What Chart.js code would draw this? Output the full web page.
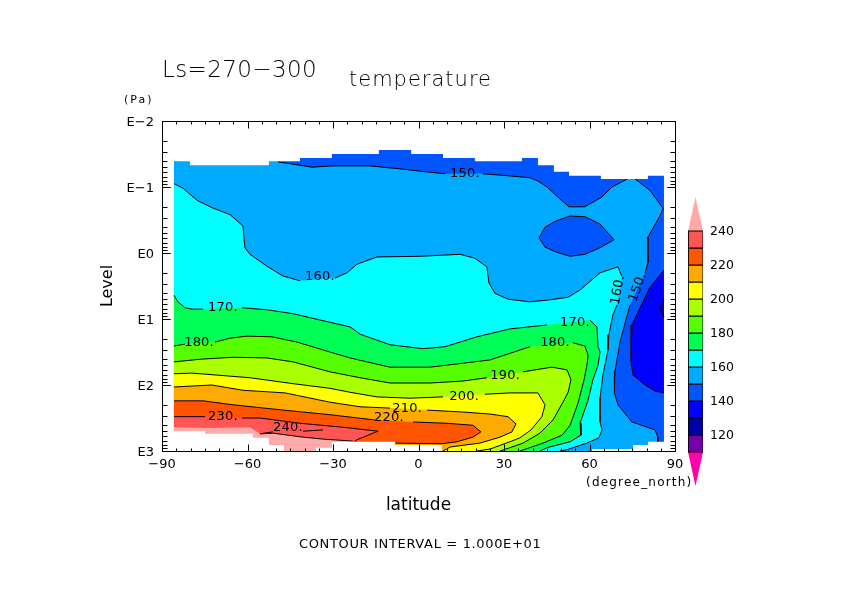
<!DOCTYPE html>
<html><head><meta charset="utf-8">
<style>html,body{margin:0;padding:0;background:#fff;width:842px;height:595px;overflow:hidden}canvas{position:absolute;display:block}</style>
<script src="https://cdn.jsdelivr.net/npm/chart.js@4"></script>
</head><body>
<canvas id="main" width="842" height="595" style="left:0;top:0"></canvas>
<canvas id="bar" width="60" height="300" style="left:680px;top:190px"></canvas>
<script>
// ---------- axes ----------
const xTicks = [-90,-60,-30,0,30,60,90];
const yTicks = [1e-2,1e-1,1,1e1,1e2,1e3];
const yTickLabels = ['E\u22122','E\u22121','E0','E1','E2','E3'];
const barTicks = [120,140,160,180,200,220,240];

// ---------- contours: latitude (deg) and log10 pressure (Pa); null = gap at a label ----------
const latFrame = [-85.8,86.1,86.1,-85.8];
const levFrame = [-2,-2,3,3];

const lat150a = [-49.3,-41.6,-37.4,-30.4,-17.0,-12.5,-5.4,0.5,9.3,null,22.6,31.4,39.1,41.9,45.1,48.6,52.8,58.4,64.4,67.9,73.2];
const lev150a = [-1.38,-1.33,-1.30,-1.32,-1.32,-1.30,-1.27,-1.24,-1.20,null,-1.20,-1.17,-1.14,-1.09,-1.00,-0.86,-0.70,-0.70,-0.85,-1.00,-1.12];
const lat150b = [76.0,81.2,85.4,85.8,84.7,80.5,80.5,79.5,null,74.2,70.7,68.9,68.6,68.9,70.0,74.9,83.0,84.0,84.0];
const lev150b = [-1.12,-0.95,-0.70,-0.67,-0.56,-0.24,0.15,0.30,null,0.79,1.35,1.80,1.92,2.12,2.30,2.56,2.68,2.79,2.86];
const lat150c = [42.3,44.4,47.9,53.2,58.4,63.7,68.6,63.7,58.4,53.2,47.9,44.4,42.3];
const lev150c = [-0.23,-0.39,-0.48,-0.56,-0.55,-0.44,-0.20,-0.08,0.02,0.05,-0.02,-0.09,-0.23];
const lat140 = [86.1,81.2,74.9,74.6,75.3,79.5,83.0,86.1];
const lev140 = [0.26,0.52,1.09,1.65,1.85,2.00,2.09,2.12];
const lat130 = [86.1,84.8,86.1];
const lev130 = [0.71,0.83,0.97];
const lat160 = [-85.8,-82.6,-79.1,-77.4,-72.1,-66.1,-61.6,-60.9,-59.1,-53.2,-47.5,-41.6,null,-29.3,-25.1,-21.6,-14.6,0.5,14.6,19.8,24.0,24.7,26.8,31.4,39.1,46.1,52.5,56.7,63.7,70.0,71.4,null,69.6,68.2,66.8,66.5,64.7,63.7,63.7,64.4,63.3,59.1,52.1,49.6];
const lev160 = [-1.05,-0.98,-0.85,-0.79,-0.68,-0.58,-0.41,-0.08,0.02,0.20,0.35,0.42,null,0.38,0.30,0.17,0.06,0.05,0.02,0.08,0.21,0.45,0.61,0.70,0.74,0.71,0.67,0.56,0.30,0.21,0.36,null,0.79,0.94,1.24,1.47,1.85,2.20,2.56,2.68,2.80,2.88,2.98,3.0];
const lat170 = [-85.8,-84.4,-81.9,-79.5,-75.6,null,-61.9,-53.2,-44.0,-31.1,-24.0,-20.5,-10.0,1.6,9.3,20.5,32.1,45.1,null,60.2,62.6,63.0,63.7,63.0,61.2,59.5,56.7,57.0,53.2,45.1,42.6];
const lev170 = [0.64,0.74,0.83,0.85,0.85,null,0.83,0.86,0.92,1.05,1.12,1.23,1.39,1.45,1.42,1.27,1.15,1.09,null,1.02,1.12,1.42,1.50,1.70,1.92,2.23,2.58,2.76,2.86,2.95,3.0];
const lat180 = [-85.8,-81.9,null,-71.4,-66.1,-60.2,-51.4,-42.6,-31.1,-24.0,-10.0,4.0,15.6,25.1,32.1,39.1,null,54.2,58.4,59.5,59.1,58.1,56.0,53.2,50.4,43.7,35.6];
const lev180 = [1.41,1.38,null,1.35,1.29,1.26,1.27,1.35,1.50,1.59,1.73,1.73,1.67,1.62,1.52,1.42,null,1.36,1.41,1.55,1.70,1.92,2.27,2.61,2.76,2.88,3.0];
const lat190 = [-85.8,-76.7,-65.1,-53.2,-44.0,-31.1,-20.5,-10.0,4.0,15.6,24.0,null,36.7,46.8,52.1,53.5,52.5,50.7,47.2,42.6,36.7,32.1,28.6];
const lev190 = [1.65,1.61,1.58,1.59,1.65,1.80,1.89,1.97,1.97,1.94,1.89,null,1.80,1.73,1.77,1.92,2.11,2.26,2.53,2.73,2.88,2.95,3.0];
const lat200 = [-85.8,-79.5,-70.7,-59.1,-44.0,-31.1,-24.0,-14.6,-3.0,8.6,null,23.3,32.1,41.9,44.4,43.3,39.5,35.6,32.1,25.1,20.5];
const lev200 = [1.83,1.82,1.85,1.89,1.98,2.05,2.11,2.18,2.20,2.18,null,2.14,2.12,2.12,2.30,2.48,2.68,2.80,2.86,2.97,3.0];
const lat210 = [-85.8,-72.5,-61.6,-46.8,-31.1,-20.5,-10.0,null,3.0,15.6,25.1,31.4,34.2,32.8,28.6,21.6,11.1,8.6];
const lev210 = [2.03,2.00,2.08,2.12,2.26,2.33,2.35,null,2.38,2.41,2.44,2.48,2.59,2.71,2.79,2.88,2.94,3.0];
const lat220 = [-85.8,-75.6,-65.1,-47.5,-40.5,-31.1,-15.3,null,-1.9,10.0,19.1,21.9,19.1,13.5,8.2,-8.2];
const lev220 = [2.24,2.24,2.30,2.38,2.41,2.45,2.53,null,2.56,2.58,2.61,2.71,2.79,2.86,2.89,2.88];
const lat230 = [-85.8,-74.9,null,-61.9,-55.6,-41.6,-26.5,-14.2,-21.6,-22.6];
const lev230 = [2.48,2.48,null,2.50,2.50,2.58,2.64,2.70,2.83,2.86];
const lat240edge = [-85.8,-74.9,-59.1,-55.6,-51.1,-40.5,-33.5,-23.0,-23.0,-85.8];
const lev240edge = [2.64,2.65,2.64,2.74,2.73,2.79,2.82,2.85,3.0,3.0];
const lat240low = [-55.6,-51.1,-40.5,-33.5,-23.0];
const lev240low = [2.74,2.73,2.79,2.82,2.85];
const lat240up = [-55.6,-51.1,null,-40.5,-33.5];
const lev240up = [2.74,2.71,null,2.70,2.68];

// ---------- edge of the valid data (stepped) ----------
const latTopEdge = [-90,-85.8,-85.8,-80.2,-80.2,-52.5,-52.5,-41.6,-41.6,-30.4,-30.4,-13.9,-13.9,-2.6,-2.6,8.6,8.6,19.8,19.8,36.3,36.3,41.9,41.9,47.5,47.5,52.8,52.8,64.0,64.0,80.5,80.5,86.1,86.1,90,90,-90];
const levTopEdge = [-1.39,-1.39,-1.39,-1.39,-1.33,-1.33,-1.39,-1.39,-1.44,-1.44,-1.50,-1.50,-1.56,-1.56,-1.50,-1.50,-1.44,-1.44,-1.39,-1.39,-1.44,-1.44,-1.33,-1.33,-1.23,-1.23,-1.17,-1.17,-1.12,-1.12,-1.17,-1.17,-1.17,-1.17,-2,-2];
const latBottomEdge = [-90,-85.8,-74.9,-74.9,-58.1,-58.1,-52.5,-52.5,-47.2,-47.2,-36.0,-36.0,-30.4,-30.4,-8.2,-8.2,8.2,8.2,60.9,60.9,75.3,75.3,80.5,80.5,86.1,90,90,-90];
const levBottomEdge = [2.70,2.70,2.70,2.74,2.74,2.80,2.80,2.91,2.91,3.0,3.0,2.95,2.95,2.86,2.86,2.91,2.91,3.0,3.0,2.97,2.97,2.91,2.91,2.86,2.86,2.86,3.0,3.0];

// ---------- contour labels ----------
const labelText = ['150.','160.','170.','180.','170.','180.','190.','200.','210.','220.','230.','240.','160.','150.'];
const labelLat = [16.3,-34.6,-68.6,-77.0,54.9,47.9,30.4,16.0,-4.0,-10.4,-68.6,-45.8,70.0,77.0];
const labelLev = [-1.20,0.36,0.83,1.36,1.06,1.36,1.86,2.17,2.36,2.50,2.48,2.64,0.56,0.52];
const labelAngle = [0,0,0,0,0,0,0,0,0,0,0,0,-80,-70];

// ---------- colour key ----------
const barEdges = [110,120,130,140,150,160,170,180,190,200,210,220,230,240];
const barColors = ['#7700aa','#0000aa','#0000ff','#0055ff','#00aaff','#00ffff','#00ff55','#55ff00','#aaff00','#ffff00','#ffaa00','#ff5500','#ff5555'];
const barTipLow = [90,'#ff00aa'];
const barTipHigh = [260,'#ffaaaa'];

// ---------- helpers ----------
const FONT = '"DejaVu Sans"';
const toPts = (lat,lev)=>lat.map((x,i)=>({x:x, y:lev[i]===null?null:Math.pow(10,lev[i])}));
const solid = (lat,lev)=>({lat:lat.filter(v=>v!==null),lev:lev.filter(v=>v!==null)});
const polyDs = (lat,lev,color)=>({label:'band',data:toPts(lat,lev),showLine:true,polygon:true,backgroundColor:color,borderWidth:0,borderColor:color,pointRadius:0,fill:false});
const lineDs = (lat,lev)=>({label:'contour',data:toPts(lat,lev),showLine:true,borderColor:'#000',borderWidth:1,pointRadius:0,fill:false,backgroundColor:'#000'});
function bottomBand(lat,lev,color){const s=solid(lat,lev);return polyDs([...s.lat,s.lat[s.lat.length-1],s.lat[0]],[...s.lev,3,3],color);}

const ds = [];
ds.push(polyDs(latFrame,levFrame,'#00aaff'));
{const s=solid(lat150a,lev150a);ds.push(polyDs([...s.lat,s.lat[s.lat.length-1],s.lat[0]],[...s.lev,-2,-2],'#0055ff'));}
{const s=solid(lat150b,lev150b);ds.push(polyDs([...s.lat,84.0,86.1,86.1,76.0],[...s.lev,3,3,-2,-2],'#0055ff'));}
ds.push(polyDs(lat150c,lev150c,'#0055ff'));
ds.push(polyDs(lat140,lev140,'#0000ff'));
ds.push(polyDs(lat130,lev130,'#0000aa'));
ds.push(bottomBand(lat160,lev160,'#00ffff'));
ds.push(bottomBand(lat170,lev170,'#00ff55'));
ds.push(bottomBand(lat180,lev180,'#55ff00'));
ds.push(bottomBand(lat190,lev190,'#aaff00'));
ds.push(bottomBand(lat200,lev200,'#ffff00'));
ds.push(bottomBand(lat210,lev210,'#ffaa00'));
ds.push(bottomBand(lat220,lev220,'#ff5500'));
ds.push(bottomBand(lat230,lev230,'#ff5555'));
ds.push(polyDs(lat240edge,lev240edge,'#ffaaaa'));
[[lat150a,lev150a],[lat150b,lev150b],[lat150c,lev150c],[lat140,lev140],[lat130,lev130],[lat160,lev160],[lat170,lev170],[lat180,lev180],[lat190,lev190],[lat200,lev200],[lat210,lev210],[lat220,lev220],[lat230,lev230],[lat240low,lev240low],[lat240up,lev240up]]
  .forEach(c=>ds.push(lineDs(c[0],c[1])));
ds.push(polyDs(latTopEdge,levTopEdge,'#ffffff'));
ds.push(polyDs(latBottomEdge,levBottomEdge,'#ffffff'));
ds.forEach((d,i)=>{d.order=ds.length-i;});

// fills each closed outline from the points the chart's scales positioned
const polygonFill = {id:'polygonFill',beforeDatasetDraw(chart,args){
  const d=chart.data.datasets[args.index]; if(!d.polygon) return;
  const pts=args.meta.data, a=chart.chartArea, c=chart.ctx;
  c.save(); c.beginPath(); c.rect(a.left,a.top,a.right-a.left,a.bottom-a.top); c.clip();
  c.beginPath(); pts.forEach((p,i)=>i?c.lineTo(p.x,p.y):c.moveTo(p.x,p.y)); c.closePath();
  c.fillStyle=d.backgroundColor; c.fill(); c.restore();
}};
function text(c,s,x,y,font,opt={}){
  c.save(); c.font=font; c.fillStyle='#000'; c.textAlign=opt.align||'left'; c.textBaseline=opt.base||'alphabetic';
  if(opt.sp) c.letterSpacing=opt.sp+'px';
  c.translate(x,y); if(opt.rot) c.rotate(opt.rot*Math.PI/180); c.fillText(s,0,0); c.restore();
}
const frameAndText = {id:'frameAndText',afterDatasetsDraw(chart){
  const c=chart.ctx,{x,y}=chart.scales,a=chart.chartArea;
  c.save(); c.strokeStyle='#000'; c.lineWidth=1; c.beginPath();
  const L=Math.round(a.left)+.5,R=Math.round(a.right)+.5,T=Math.round(a.top)+.5,B=Math.round(a.bottom)+.5;
  c.rect(L,T,R-L,B-T);
  for(let v=-90;v<=90;v+=5){const p=Math.round(x.getPixelForValue(v))+.5,l=v%30===0?7:3;c.moveTo(p,T);c.lineTo(p,T+l);c.moveTo(p,B);c.lineTo(p,B-l);}
  for(let e=-2;e<3;e++)for(let m=1;m<=10;m++){const p=Math.round(y.getPixelForValue(m*Math.pow(10,e)))+.5,l=(m===1||m===10)?8:5;c.moveTo(L,p);c.lineTo(L+l,p);c.moveTo(R,p);c.lineTo(R-l,p);}
  c.stroke(); c.restore();
  labelText.forEach((s,i)=>text(c,s,x.getPixelForValue(labelLat[i]),y.getPixelForValue(Math.pow(10,labelLev[i])),'13px '+FONT,{align:'center',base:'middle',rot:labelAngle[i],sp:.2}));
  text(c,'Ls=270\u2212300',162,77,'200 23px '+FONT,{sp:.4});
  text(c,'temperature',349,86,'200 21px '+FONT,{sp:1});
  text(c,'(Pa)',124,103,'11px '+FONT,{sp:2});
  text(c,'(degree_north)',586,486,'12px '+FONT,{sp:1.2});
  text(c,'CONTOUR INTERVAL = 1.000E+01',299,548,'13px '+FONT,{sp:.65});
}};

new Chart(document.getElementById('main'),{
  type:'scatter',
  data:{datasets:ds},
  plugins:[polygonFill,frameAndText],
  options:{
    responsive:false,animation:false,devicePixelRatio:1,
    layout:{padding:{top:121,right:167,left:0,bottom:0}},
    plugins:{legend:{display:false},tooltip:{enabled:false},title:{display:false}},
    elements:{line:{tension:0}},
    scales:{
      x:{type:'linear',min:-90,max:90,position:'bottom',
        grid:{display:false,drawTicks:false},border:{display:false},
        afterBuildTicks:s=>{s.ticks=xTicks.map(v=>({value:v}));},
        afterFit:s=>{s.height=144;},
        ticks:{autoSkip:false,maxRotation:0,padding:6,color:'#000',font:{family:FONT,size:13},callback:v=>(v<0?'\u2212'+(-v):''+v)},
        title:{display:true,text:'latitude',color:'#000',font:{family:FONT,size:17},padding:{top:0,bottom:79}}},
      y:{type:'logarithmic',min:1e-2,max:1e3,reverse:true,position:'left',
        grid:{display:false,drawTicks:false},border:{display:false},
        afterBuildTicks:s=>{s.ticks=yTicks.map(v=>({value:v}));},
        afterFit:s=>{s.width=162;},
        ticks:{autoSkip:false,padding:8,labelOffset:1.5,color:'#000',font:{family:FONT,size:13},callback:(v,i)=>yTickLabels[i]},
        title:{display:true,text:'Level',color:'#000',font:{family:FONT,size:16},padding:{top:98,bottom:0}}}
    }
  }
});

// ---------- colour key chart ----------
const rawPts = (xs,ys)=>xs.map((x,i)=>({x:x,y:ys[i]}));
const barDs=[];
[barTipLow,barTipHigh].forEach((tip,k)=>{const e=k?barEdges[13]:barEdges[0];
  barDs.push({label:'tip',data:rawPts([0,0.5,1,0],[e,tip[0],e,e]),showLine:true,polygon:true,backgroundColor:tip[1],borderColor:tip[1],borderWidth:0,pointRadius:0,fill:false});});
barColors.forEach((col,i)=>{const a=barEdges[i],b=barEdges[i+1];
  barDs.push({label:''+a,data:rawPts([0,1,1,0,0],[a,a,b,b,a]),showLine:true,polygon:true,backgroundColor:col,borderColor:'#000',borderWidth:1,pointRadius:0,fill:false});});
barDs.forEach((d,i)=>{d.order=barDs.length-i;});
new Chart(document.getElementById('bar'),{
  type:'scatter',
  data:{datasets:barDs},
  plugins:[polygonFill],
  options:{
    responsive:false,animation:false,devicePixelRatio:1,
    layout:{padding:{top:7,bottom:4,left:8,right:0}},
    plugins:{legend:{display:false},tooltip:{enabled:false}},
    elements:{line:{tension:0}},
    scales:{
      x:{type:'linear',min:0,max:1,display:false},
      y:{type:'linear',min:90,max:260,position:'right',
        grid:{display:false,drawTicks:false},border:{display:false},
        afterBuildTicks:s=>{s.ticks=barTicks.map(v=>({value:v}));},
        afterFit:s=>{s.width=37;s.paddingTop=0;s.paddingBottom=0;},
        ticks:{autoSkip:false,padding:7,labelOffset:1,color:'#000',font:{family:FONT,size:12.5}}}
    }
  }
});
</script>
</body></html>
